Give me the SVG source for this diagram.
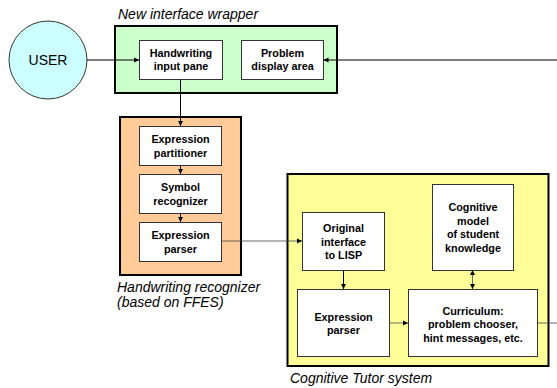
<svg xmlns="http://www.w3.org/2000/svg" width="557" height="388" viewBox="0 0 557 388">
<defs>
<marker id="ah" markerWidth="6" markerHeight="6" refX="5" refY="3" orient="auto" markerUnits="userSpaceOnUse">
<path d="M0,0.5 L5,3 L0,5.5 Z" fill="#000"/>
</marker>
<marker id="ahs" markerWidth="6" markerHeight="6" refX="1" refY="3" orient="auto" markerUnits="userSpaceOnUse">
<path d="M5,0.5 L0,3 L5,5.5 Z" fill="#000"/>
</marker>
</defs>
<style>
text{font-family:"Liberation Sans",Arial,sans-serif;fill:#000}
.b{font-size:10.8px;font-weight:bold;text-anchor:middle}
.cap{font-size:14px;font-style:italic}
.box{fill:#fff;stroke:#333;stroke-width:1}
.outer{stroke:#000;stroke-width:2}
.c{fill:none;stroke:#000;stroke-width:1}
.cg{fill:none;stroke:#444;stroke-width:0.8}
</style>
<rect width="557" height="388" fill="#fff"/>

<g id="wrapper">
<rect class="outer" x="115" y="26" width="222" height="67" fill="#ccffcc"/>
<text class="cap" x="118" y="19">New interface wrapper</text>
</g>
<g id="recognizer">
<rect class="outer" x="120" y="117" width="121" height="158" fill="#ffcc99"/>
<text class="cap" x="117" y="292">Handwriting recognizer</text>
<text class="cap" x="117" y="307">(based on FFES)</text>
</g>
<g id="tutor">
<rect class="outer" x="287.5" y="174" width="261" height="192" fill="#ffff99"/>
<text class="cap" x="290" y="383">Cognitive Tutor system</text>
</g>

<g id="user">
<circle cx="48" cy="60" r="39" fill="#ccffff" stroke="#333" stroke-width="1"/>
<text x="48" y="65" font-size="14" text-anchor="middle">USER</text>
</g>
<g id="hw-pane">
<rect class="box" x="139.5" y="40.5" width="83" height="39"/>
<text class="b" x="181" y="57">Handwriting</text>
<text class="b" x="181" y="70">input pane</text>
</g>
<g id="problem-display">
<rect class="box" x="241.5" y="40.5" width="82" height="39"/>
<text class="b" x="282.5" y="57">Problem</text>
<text class="b" x="282.5" y="70">display area</text>
</g>
<g id="partitioner">
<rect class="box" x="139.5" y="126.5" width="82" height="39"/>
<text class="b" x="180.5" y="143">Expression</text>
<text class="b" x="180.5" y="156.5">partitioner</text>
</g>
<g id="symbol-recognizer">
<rect class="box" x="139.5" y="174.5" width="82" height="39"/>
<text class="b" x="180.5" y="191">Symbol</text>
<text class="b" x="180.5" y="204.5">recognizer</text>
</g>
<g id="hr-parser">
<rect class="box" x="139.5" y="222.5" width="82" height="39"/>
<text class="b" x="180.5" y="239">Expression</text>
<text class="b" x="180.5" y="252.5">parser</text>
</g>
<g id="orig-interface">
<rect class="box" x="302.5" y="212.5" width="82" height="58"/>
<text class="b" x="343.5" y="232">Original</text>
<text class="b" x="343.5" y="245.5">interface</text>
<text class="b" x="343.5" y="259">to LISP</text>
</g>
<g id="ct-parser">
<rect class="box" x="297.5" y="289.5" width="92" height="67"/>
<text class="b" x="343.5" y="320.5">Expression</text>
<text class="b" x="343.5" y="334">parser</text>
</g>
<g id="cog-model">
<rect class="box" x="432.5" y="184.5" width="81" height="86"/>
<text class="b" x="473" y="211">Cognitive</text>
<text class="b" x="473" y="224.5">model</text>
<text class="b" x="473" y="238">of student</text>
<text class="b" x="473" y="251.5">knowledge</text>
</g>
<g id="curriculum">
<rect class="box" x="408.5" y="289.5" width="129" height="67"/>
<text class="b" x="473" y="314.5">Curriculum:</text>
<text class="b" x="473" y="328">problem chooser,</text>
<text class="b" x="473" y="341.5">hint messages, etc.</text>
</g>

<g id="connectors">
<line class="c" x1="87" y1="60" x2="139" y2="60" marker-end="url(#ah)"/>
<line class="c" x1="557" y1="60" x2="323.5" y2="60" marker-end="url(#ah)"/>
<line class="c" x1="180.5" y1="79.5" x2="180.5" y2="126" marker-end="url(#ah)"/>
<line class="c" x1="180.5" y1="165.5" x2="180.5" y2="174" marker-end="url(#ah)"/>
<line class="c" x1="180.5" y1="213.5" x2="180.5" y2="222" marker-end="url(#ah)"/>
<line class="cg" x1="221.5" y1="241" x2="302" y2="241" marker-end="url(#ah)"/>
<line class="c" x1="343.5" y1="270.5" x2="343.5" y2="289" marker-end="url(#ah)"/>
<line class="cg" x1="389.5" y1="323" x2="408" y2="323" marker-end="url(#ah)"/>
<line class="cg" x1="472.5" y1="271" x2="472.5" y2="289" marker-start="url(#ahs)" marker-end="url(#ah)"/>
<line class="cg" x1="537.5" y1="323" x2="557" y2="323"/>
</g>
</svg>
